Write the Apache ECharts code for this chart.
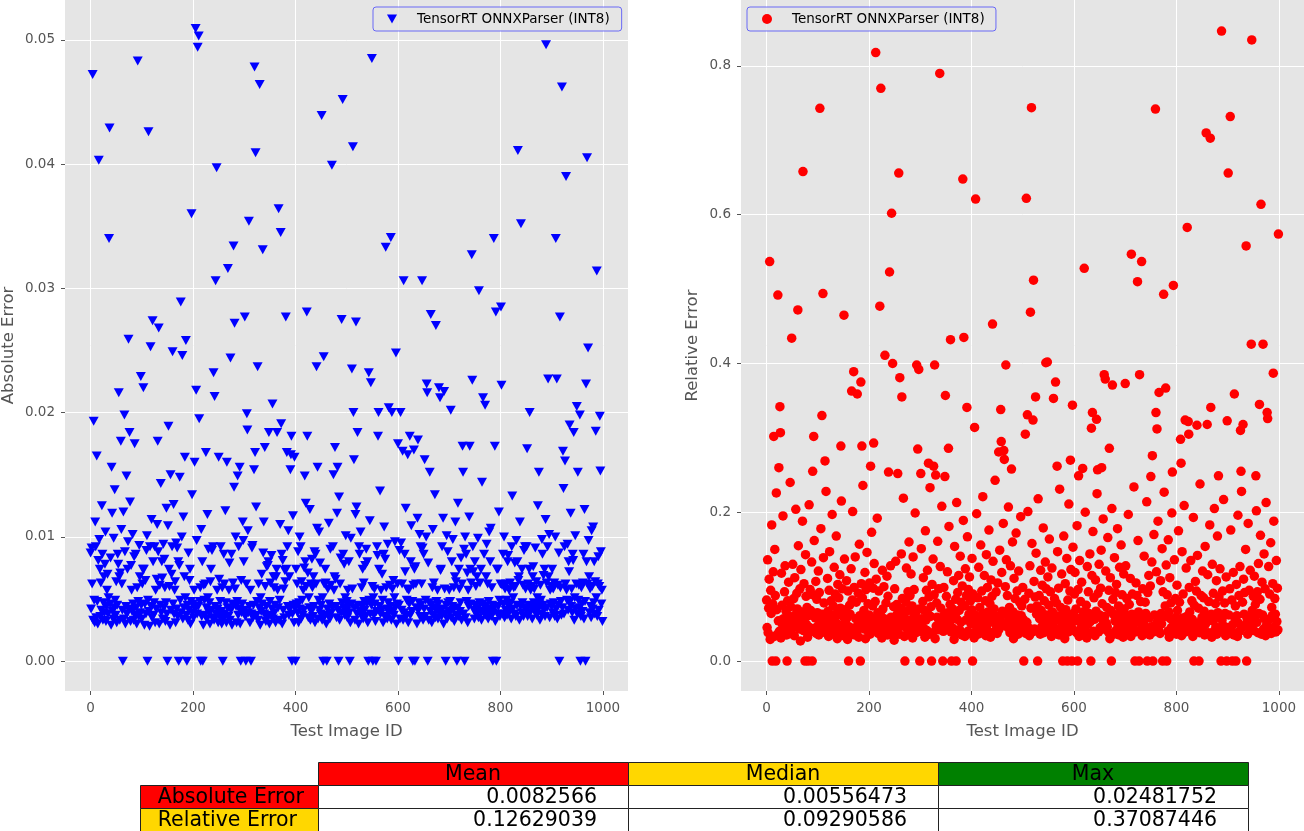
<!DOCTYPE html>
<html><head><meta charset="utf-8">
<script src="https://cdn.jsdelivr.net/npm/echarts@6/dist/echarts.min.js"></script>
<style>html,body{margin:0;padding:0;background:#fff}#c{width:1304px;height:831px}</style>
</head><body><div id="c"></div>
<script>
// Absolute error, in units of 1e-4, by test image id (0..999)
const absBaseE4 = [
87,42,91,62,38,33,72,49,31,112,92,35,72,48,30,81,45,98,74,36,63,41,125,86,33,47,68,39,78,104,32,44,57,70,38,51,92,35,46,83,29,80,119,40,34,99,43,138,49,37,
64,31,45,86,78,39,68,33,71,47,106,62,41,92,120,34,48,88,30,44,67,38,74,96,35,42,61,128,32,77,57,40,102,46,33,84,69,37,86,43,30,59,131,48,36,93,68,39,75,45,
34,62,74,97,74,29,46,65,38,89,101,33,49,62,40,28,92,73,44,114,35,51,80,37,47,92,31,57,42,66,110,36,88,48,30,61,45,143,39,80,67,34,94,43,82,59,32,47,123,38,
44,109,35,74,60,29,83,41,70,92,33,46,126,38,57,64,31,95,42,91,36,80,45,77,30,49,58,39,100,47,34,116,43,68,28,51,60,37,79,45,33,87,41,65,74,30,48,71,134,39,
46,35,57,63,42,31,84,97,38,86,44,67,32,48,59,40,106,36,80,76,29,61,49,37,62,71,43,34,118,51,90,39,47,30,64,74,41,89,35,92,108,33,60,44,103,38,73,57,42,31,
80,66,36,48,92,40,30,59,45,34,86,62,38,121,47,31,51,43,69,36,57,79,33,84,41,86,29,46,63,39,140,35,58,100,44,31,48,95,37,92,42,74,30,68,65,39,46,112,97,80,
41,58,36,80,62,32,47,105,39,86,44,31,57,66,38,91,93,35,45,59,42,30,74,124,37,48,129,33,62,43,71,29,51,40,70,46,35,87,112,38,49,60,32,44,76,36,77,80,41,30,
48,63,37,85,42,96,34,68,59,39,45,31,68,74,38,57,43,141,33,49,110,36,46,86,30,81,41,58,35,73,64,39,74,29,92,44,105,37,68,42,61,33,48,96,38,117,45,31,69,43,
36,74,46,62,39,88,31,47,100,42,92,34,64,49,37,57,41,75,30,80,127,60,38,48,71,35,51,43,122,33,62,40,82,59,36,68,44,88,31,86,62,39,107,57,34,49,104,41,79,38,
45,60,33,51,40,97,62,36,74,63,30,74,42,58,37,111,46,34,90,61,39,48,43,92,31,57,68,38,66,44,35,119,60,41,49,132,33,62,83,39,62,47,30,86,43,78,37,51,101,40,
48,35,57,44,80,39,80,31,99,46,41,58,36,68,65,43,33,118,47,124,38,61,45,30,92,86,40,104,37,59,44,74,34,63,48,41,77,36,90,46,80,31,60,42,49,113,38,93,45,33,
60,43,51,37,58,46,32,102,40,92,85,62,35,74,44,137,38,57,41,70,49,31,86,108,36,82,68,59,42,34,94,47,100,39,61,44,80,33,74,58,40,65,37,51,96,43,128,30,46,62,
38,74,45,89,34,68,95,41,62,47,33,63,39,86,72,123,36,49,58,42,31,57,46,66,37,80,109,40,48,35,61,84,74,38,76,62,43,30,115,59,41,47,102,36,92,45,62,39,91,33,
86,42,58,36,49,100,44,61,38,79,33,47,86,40,62,45,31,59,106,37,63,43,134,35,80,48,41,57,34,46,97,39,60,73,74,36,92,42,115,30,49,58,38,64,45,101,34,88,47,40,
57,39,48,62,35,80,44,98,41,59,32,68,112,64,37,92,43,127,36,74,58,40,47,83,33,62,45,61,38,90,42,100,35,86,48,71,31,57,44,116,39,74,46,63,37,78,92,72,41,34,
80,45,60,38,68,42,99,35,57,47,63,40,74,33,144,46,58,39,86,44,61,37,68,94,42,62,34,48,104,41,80,107,36,59,45,51,39,64,43,81,32,92,47,74,38,74,44,120,49,36,
62,43,68,61,38,86,46,100,35,58,41,62,49,37,80,85,44,57,40,63,47,34,92,133,42,51,59,38,79,60,36,97,45,80,41,65,68,33,112,44,109,39,74,47,61,36,89,43,92,58,
41,92,48,36,62,45,74,101,39,57,43,60,34,68,76,47,58,40,91,44,64,37,51,125,42,62,46,33,61,49,38,98,86,45,69,41,74,36,114,48,63,43,92,83,68,102,35,57,46,60,
44,74,39,58,47,63,36,100,68,42,62,34,61,45,87,80,40,59,48,37,64,43,111,139,38,92,46,62,35,57,49,94,41,80,72,36,48,119,44,58,39,86,81,62,33,51,101,42,62,45,
38,57,49,61,43,95,74,36,59,46,40,63,86,34,122,48,77,41,80,37,62,45,97,68,39,58,44,35,105,60,42,108,47,80,38,64,45,51,93,36,62,84,41,60,33,74,88,46,57,32
];
// Large absolute errors: [test image id, error in 1e-4]
const absPeaksE4 = [
[4,472],[16,403],[37,429],[36,340],[92,483],[113,426],[205,509],[211,503],[209,494],[320,478],[330,464],[492,452],[451,439],[512,414],[322,409],[246,397],[471,399],[197,360],[367,364],[371,345],[309,354],[279,334],[336,331],[268,316],[244,306],[176,289],[121,274],[133,268],[74,259],[117,253],[160,249],[179,246],[186,258],[281,272],[301,277],[381,277],[422,281],[273,244],[326,237],[455,245],[441,237],[240,232],[98,229],[103,220],[55,216],[206,218],[242,213],[355,207],[6,193],[66,198],[305,199],[212,195],[152,189],[306,186],[372,191],[76,184],[59,177],[86,175],[131,177],[348,184],[364,184],[392,181],[423,181],[477,172],[340,172],[321,168],[12,165],[184,164],[225,168],[250,164],[383,168],[391,166],[398,164],[41,156],[203,160],[266,160],[291,156],[319,154],[390,154],[443,156],[482,156],[70,149],[156,150],[174,148],[287,149],[418,149],[474,150],
[549,485],[889,496],[920,462],[834,411],[969,405],[928,390],[840,352],[787,340],[908,340],[744,327],[586,341],[576,333],[988,314],[611,306],[647,306],[758,298],[801,285],[791,281],[916,277],[664,279],[674,270],[490,275],[518,273],[596,248],[971,252],[510,235],[543,232],[547,224],[745,226],[802,222],[893,227],[910,227],[967,223],[656,223],[680,220],[657,216],[690,217],[682,212],[766,212],[770,206],[703,202],[513,200],[562,200],[582,204],[588,200],[605,200],[857,200],[949,205],[955,198],[994,197],[935,190],[943,184],[986,185],[521,184],[561,181],[623,181],[639,178],[600,175],[609,169],[619,166],[631,170],[726,173],[740,173],[789,173],[852,171],[922,169],[926,161],[514,162],[652,162],[662,152],[727,152],[875,152],[951,152],[995,153]
];
const absZeroIds = [63,111,150,172,188,215,219,258,293,303,313,393,400,454,461,484,506,542,551,557,601,629,633,658,693,715,730,785,792,915,956,966];

// Relative error, in units of 1e-3, by test image id (0..999)
const relBaseE3 = [
82,45,136,38,71,110,52,29,95,64,183,41,77,120,58,33,150,88,47,226,69,36,101,54,142,40,86,63,31,118,75,49,195,57,39,93,128,44,67,35,171,81,50,106,42,60,240,73,37,99,
55,130,46,84,34,112,62,204,48,91,70,38,155,59,43,97,27,123,66,51,188,79,41,104,57,36,143,87,49,72,32,115,61,210,45,96,68,40,133,53,30,89,76,162,44,58,107,37,83,65,
47,121,35,92,70,56,178,42,100,63,31,139,78,51,86,38,228,59,44,111,67,33,95,147,53,40,81,62,197,46,74,36,126,57,90,42,168,64,30,103,49,85,39,116,71,55,215,43,97,60,
34,88,137,52,69,41,108,58,29,94,180,46,75,63,37,124,50,82,201,44,66,99,35,140,57,79,40,113,48,91,32,157,61,72,45,104,38,85,236,54,68,43,119,30,96,59,146,47,77,39,
62,105,36,89,51,173,43,74,98,33,131,58,80,40,110,49,192,65,37,94,55,145,42,83,60,31,122,70,47,100,39,165,56,78,44,114,35,87,206,53,67,41,128,59,92,38,152,48,73,28,
97,54,134,41,76,63,186,45,90,36,109,58,71,144,39,84,50,219,61,33,102,46,79,125,55,42,93,68,160,37,88,52,117,44,74,31,140,59,96,48,199,65,38,107,53,82,43,130,70,35,
46,91,151,57,39,80,112,44,68,32,175,55,95,41,122,63,50,86,36,233,60,73,45,103,38,137,52,89,66,30,118,47,78,59,161,42,97,54,35,127,71,49,208,58,84,40,99,62,37,146,
53,87,43,120,65,34,181,50,76,95,39,132,57,70,44,108,29,154,61,83,47,213,56,92,38,115,68,42,141,52,79,35,101,60,189,45,74,33,124,55,88,48,167,40,96,63,113,37,81,50,
69,138,44,90,56,31,107,62,78,41,198,53,85,36,126,47,72,59,156,38,94,50,221,64,43,115,57,81,34,143,48,99,66,40,176,54,77,32,109,61,87,45,134,52,70,39,243,58,93,46,
37,105,60,80,43,149,55,92,35,119,67,48,185,41,76,63,100,33,136,51,88,45,207,59,72,38,128,54,97,42,160,66,30,111,49,84,57,172,40,94,62,36,121,53,79,46,194,61,74,44,
99,56,140,42,83,65,37,116,52,77,201,45,91,34,128,60,71,48,158,39,95,54,107,43,86,31,145,63,74,50,218,41,88,57,36,122,68,46,102,59,179,38,81,53,133,44,97,62,35,113,
48,75,164,40,93,58,33,125,66,51,190,44,84,37,110,61,78,42,147,55,98,35,231,57,72,46,117,63,89,40,168,52,30,104,69,47,138,56,82,39,211,60,94,43,123,50,76,36,153,64,
41,90,119,54,70,38,182,47,96,62,33,135,58,80,45,106,35,160,66,51,88,42,200,57,75,31,127,49,93,64,37,144,53,79,44,115,60,174,40,85,56,34,109,67,48,225,52,91,39,130,
62,45,98,149,38,77,55,191,43,86,60,34,121,51,72,46,166,39,95,57,30,112,68,49,205,42,83,63,36,139,54,92,41,103,59,178,47,74,35,126,65,50,156,44,89,58,32,117,70,46,
53,128,40,84,61,37,197,55,76,45,111,33,150,63,90,48,42,234,59,71,39,105,52,88,36,162,66,47,124,57,80,43,185,34,97,60,51,141,38,79,64,45,214,55,92,41,115,58,35,101,
70,46,133,56,87,39,170,62,48,95,31,120,67,53,188,42,80,58,37,108,64,50,151,44,93,35,227,60,74,47,129,54,89,40,163,66,32,112,57,78,45,199,61,38,98,52,136,43,84,59,
36,102,68,48,175,55,79,41,118,63,34,147,58,90,46,209,52,73,39,125,60,86,44,160,37,99,66,51,135,43,81,56,33,193,62,75,49,107,40,94,57,142,45,71,64,38,238,53,88,47,
59,121,42,85,67,35,154,50,96,61,44,116,38,80,56,183,47,73,63,32,130,54,91,40,205,58,77,46,108,36,168,65,52,86,43,124,60,39,145,55,94,48,217,41,78,64,34,113,57,83,
45,139,62,37,97,53,176,42,82,66,49,119,35,158,58,74,44,103,61,33,196,51,88,40,127,65,56,228,46,79,38,110,63,92,48,150,41,72,57,36,185,54,95,43,122,60,31,137,68,50,
87,41,114,59,76,45,202,52,93,38,131,64,47,83,169,55,36,106,62,78,43,144,57,97,34,213,49,81,65,40,127,56,90,44,159,37,72,61,104,50,188,46,84,63,39,135,53,98,42,118
];
// Large relative errors: [test image id, error in 1e-3]
const relPeaksE3 = [
[213,818],[338,790],[223,770],[104,743],[517,744],[71,658],[258,656],[383,648],[408,621],[507,622],[244,602],[6,537],[240,523],[521,512],[22,492],[110,494],[61,472],[221,477],[151,465],[515,469],[441,453],[49,434],[359,432],[385,435],[231,411],[246,400],[293,398],[297,392],[328,398],[467,398],[170,389],[184,375],[166,363],[177,359],[260,381],[264,355],[349,357],[26,342],[391,341],[457,338],[108,330],[509,331],[14,302],[27,307],[92,302],[406,314],[505,305],[145,289],[186,289],[209,293],[295,285],[355,286],[458,295],[453,281],[463,283],[464,271],[478,258],[24,260],[114,269],[90,255],[203,262],[238,254],[256,252],[301,252],[316,266],[326,262],[330,250],[348,248],
[888,847],[947,835],[759,742],[905,732],[858,710],[866,703],[901,656],[965,614],[821,583],[999,574],[936,558],[712,547],[732,537],[620,528],[724,510],[794,505],[775,493],[946,426],[969,426],[545,401],[548,402],[989,387],[564,375],[659,385],[661,379],[675,371],[700,373],[728,385],[766,361],[779,367],[525,355],[560,353],[597,344],[867,341],[913,359],[962,345],[977,334],[978,326],[520,324],[636,334],[644,325],[634,313],[760,334],[762,312],[817,324],[823,322],[840,317],[860,318],[899,323],[930,318],[925,310],[824,305],[808,298],[669,286],[753,276],[593,270],[809,266],[567,262],[617,259],[646,257],[654,260],[792,254],[926,255],[955,249],[882,249],[609,249],[750,248]
];
const relZeroIds = [11,18,40,75,81,89,160,183,270,299,322,344,361,370,402,502,529,578,587,596,607,633,673,719,727,743,754,773,781,834,844,887,898,909,916,937];

const xTicks = [0, 200, 400, 600, 800, 1000];
const absTicks = [0, 0.01, 0.02, 0.03, 0.04, 0.05];
const relTicks = [0, 0.2, 0.4, 0.6, 0.8];

const tableCols = ['Mean', 'Median', 'Max'];
const tableColColours = ['#ff0000', '#ffd700', '#008000'];
const tableRows = ['Absolute Error', 'Relative Error'];
const tableRowColours = ['#ff0000', '#ffd700'];
const tableValues = [
  ['0.0082566', '0.00556473', '0.02481752'],
  ['0.12629039', '0.09290586', '0.37087446']
];

function buildSeries(base, peaks, zeros, unit) {
  const v = base.slice();
  peaks.forEach(p => { v[p[0]] = p[1]; });
  zeros.forEach(i => { v[i] = 0; });
  return v.map((y, i) => [i, y * unit]);
}
const absData = buildSeries(absBaseE4, absPeaksE4, absZeroIds, 1e-4);
const relData = buildSeries(relBaseE3, relPeaksE3, relZeroIds, 1e-3);

const NAME1 = 'TensorRT ONNXParser (INT8)';
const NAME2 = 'TensorRT ONNXParser (INT8) ';
const TRI = 'path://M0,0L10,0L5,9Z';
const FONT = 'DejaVu Sans';
const GREY = '#555555';

function xAxisCfg(gi) {
  return {
    type: 'value', gridIndex: gi, min: -49.95, max: 1048.95,
    axisLine: { show: false, onZero: false },
    axisTick: { show: true, length: 4, lineStyle: { color: GREY, width: 1 }, customValues: xTicks },
    axisLabel: { customValues: xTicks, color: GREY, fontSize: 13.5, fontFamily: FONT, margin: 10,
      formatter: v => String(Math.round(v)) },
    splitLine: { show: true, lineStyle: { color: '#ffffff', width: 1 } },
    name: 'Test Image ID', nameLocation: 'middle', nameGap: 32,
    nameTextStyle: { fontSize: 16.5, color: GREY, fontFamily: FONT }
  };
}
function yAxisCfg(gi, min, max, ticks, digits, name, gap) {
  return {
    type: 'value', gridIndex: gi, min: min, max: max,
    axisLine: { show: false, onZero: false },
    axisTick: { show: true, length: 4, lineStyle: { color: GREY, width: 1 }, customValues: ticks },
    axisLabel: { customValues: ticks, color: GREY, fontSize: 13.5, fontFamily: FONT, margin: 10,
      formatter: v => Number(v).toFixed(digits) },
    splitLine: { show: true, lineStyle: { color: '#ffffff', width: 1 } },
    name: name, nameLocation: 'middle', nameGap: gap,
    nameTextStyle: { fontSize: 16.5, color: GREY, fontFamily: FONT }
  };
}

// table graphics
const colX = [140, 318, 628, 938, 1248];
const rowY = [762, 785, 808, 831];
const graphics = [];
const txt = { fontFamily: FONT, fontSize: 20.5, fill: '#000' };
tableCols.forEach((c, j) => {
  const x0 = colX[j + 1], w = colX[j + 2] - colX[j + 1];
  graphics.push({ type: 'rect', shape: { x: x0 + 0.5, y: rowY[0] + 0.5, width: w, height: rowY[1] - rowY[0] },
    style: { fill: tableColColours[j], stroke: '#222', lineWidth: 1 } });
  graphics.push({ type: 'text', x: x0 + w / 2, y: (rowY[0] + rowY[1]) / 2 + 1,
    style: Object.assign({ text: c, textAlign: 'center', textVerticalAlign: 'middle' }, txt) });
});
tableRows.forEach((r, i) => {
  const y0 = rowY[i + 1], h = rowY[i + 2] - rowY[i + 1];
  const w0 = colX[1] - colX[0];
  graphics.push({ type: 'rect', shape: { x: colX[0] + 0.5, y: y0 + 0.5, width: w0, height: h },
    style: { fill: tableRowColours[i], stroke: '#222', lineWidth: 1 } });
  graphics.push({ type: 'text', x: colX[0] + w0 * 0.1, y: y0 + h / 2 + 1,
    style: Object.assign({ text: r, textAlign: 'left', textVerticalAlign: 'middle' }, txt) });
  tableValues[i].forEach((v, j) => {
    const x0 = colX[j + 1], w = colX[j + 2] - colX[j + 1];
    graphics.push({ type: 'rect', shape: { x: x0 + 0.5, y: y0 + 0.5, width: w, height: h },
      style: { fill: '#ffffff', stroke: '#222', lineWidth: 1 } });
    graphics.push({ type: 'text', x: x0 + w * 0.9, y: y0 + h / 2 + 1,
      style: Object.assign({ text: v, textAlign: 'right', textVerticalAlign: 'middle' }, txt) });
  });
});

const legendBase = {
  orient: 'horizontal', selectedMode: false, top: 7,
  padding: [4, 12, 4, 14], backgroundColor: 'rgba(229,229,229,0.8)',
  borderColor: 'rgba(40,40,255,0.65)', borderWidth: 1, borderRadius: 3,
  textStyle: { fontSize: 13.5, fontFamily: FONT, color: '#000', lineHeight: 16, padding: [0, 0, 0, 15] }
};

const chart = echarts.init(document.getElementById('c'), null, { renderer: 'canvas' });
chart.setOption({
  animation: false,
  backgroundColor: '#ffffff',
  grid: [
    { left: 65, top: 0, width: 563, height: 691, backgroundColor: '#e5e5e5', show: true, borderWidth: 0, outerBoundsMode: 'none', containLabel: false },
    { left: 741, top: 0, width: 563, height: 691, backgroundColor: '#e5e5e5', show: true, borderWidth: 0, outerBoundsMode: 'none', containLabel: false }
  ],
  xAxis: [xAxisCfg(0), xAxisCfg(1)],
  yAxis: [
    yAxisCfg(0, -0.0024, 0.0532, absTicks, 2, 'Absolute Error', 48),
    yAxisCfg(1, -0.0403, 0.8887, relTicks, 1, 'Relative Error', 40)
  ],
  legend: [
    Object.assign({}, legendBase, { left: 373, data: [{ name: NAME1, icon: TRI }], itemWidth: 10, itemHeight: 9 }),
    Object.assign({}, legendBase, { left: 747, padding: [4, 7, 4, 15], data: [{ name: NAME2, icon: 'circle' }], itemWidth: 10, itemHeight: 10 })
  ],
  series: [
    { type: 'scatter', name: NAME1, xAxisIndex: 0, yAxisIndex: 0, data: absData,
      symbol: TRI, symbolSize: [10, 9], itemStyle: { color: '#0000ff', opacity: 1 }, silent: true, large: false },
    { type: 'scatter', name: NAME2, xAxisIndex: 1, yAxisIndex: 1, data: relData,
      symbol: 'circle', symbolSize: 9.5, itemStyle: { color: '#ff0000', opacity: 1 }, silent: true, large: false }
  ],
  graphic: graphics
});
</script>
</body></html>
